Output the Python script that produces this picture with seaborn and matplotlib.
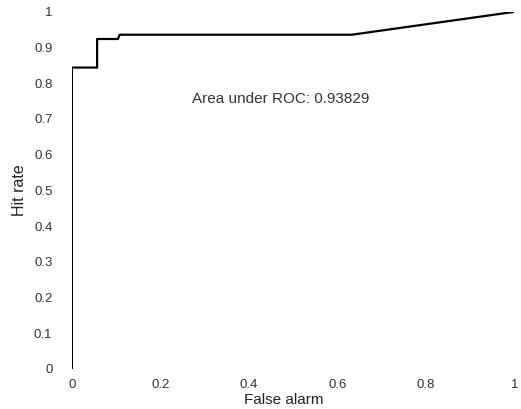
import matplotlib
matplotlib.use('Agg')
import matplotlib.pyplot as plt
import seaborn as sns
import pandas as pd
from matplotlib.ticker import FuncFormatter

# ROC curve points
false_alarm = [0, 0, 0.057, 0.057, 0.104, 0.108, 0.633, 1.0]
hit_rate = [0, 0.844, 0.844, 0.924, 0.924, 0.936, 0.936, 1.0]
auc_text = 'Area under ROC: 0.93829'
yticks = [0, 0.1, 0.2, 0.3, 0.4, 0.5, 0.6, 0.7, 0.8, 0.9, 1]
xticks = [0, 0.2, 0.4, 0.6, 0.8, 1]

sns.set_theme(style='white')
plt.rcParams['font.family'] = ['Liberation Sans', 'DejaVu Sans']

df = pd.DataFrame({'False alarm': false_alarm, 'Hit rate': hit_rate})

fig = plt.figure(figsize=(5.21, 4.09), dpi=100)
ax = fig.add_axes([0.138, 0.098, 0.849, 0.873])
sns.lineplot(data=df, x='False alarm', y='Hit rate', sort=False, estimator=None,
             color='black', linewidth=1.6, ax=ax)

ax.set_xlim(0, 1)
ax.set_ylim(0, 1)
ax.set_xticks(xticks)
ax.set_yticks(yticks)
fmt = FuncFormatter(lambda v, p: '%g' % v)
ax.xaxis.set_major_formatter(fmt)
ax.yaxis.set_major_formatter(fmt)
ax.tick_params(axis='x', length=0, pad=7, labelsize=9.5, colors='#333333')
ax.tick_params(axis='y', length=0, pad=14, labelsize=9.5, colors='#333333')
for s in ax.spines.values():
    s.set_visible(False)

ax.set_xlabel('False alarm', fontsize=11, color='#222222')
ax.set_ylabel('Hit rate', fontsize=11.5, color='#222222')
ax.xaxis.set_label_coords(0.48, -0.068)
ax.yaxis.set_label_coords(-0.102, 0.5)
ax.text(0.472, 0.756, auc_text, ha='center', va='center', fontsize=11, color='#333333')

fig.savefig('out.png', dpi=100)
